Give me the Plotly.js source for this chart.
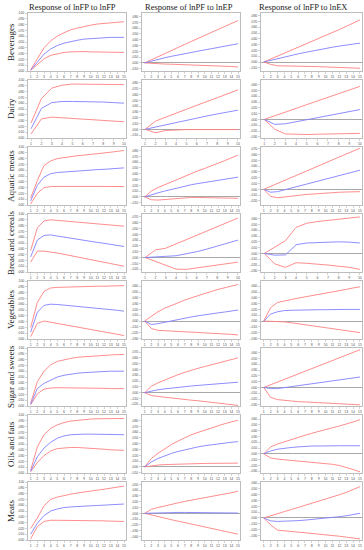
<!DOCTYPE html>
<html><head><meta charset="utf-8">
<script src="https://cdn.plot.ly/plotly-3.0.1.min.js"></script>
<style>html,body{margin:0;padding:0;background:#fff}#chart{width:364px;height:550px}</style>
</head><body><div id="chart"></div>
<script>
const periods15 = [1,2,3,4,5,6,7,8,9,10,11,12,13,14,15];
const periods10 = [1,2,3,4,5,6,7,8,9,10];
const rowNames = ['Beverages','Dairy','Aquatic meats','Bread and cereals','Vegetables','Sugar and sweets','Oils and fats','Meats'];
const colTitles = ['Response of lnFP to lnFP','Response of lnPF to lnEP','Response of lnFP to lnEX'];

// Beverages
const bevFP_hi  = [.002,.022,.040,.052,.060,.066,.071,.074,.077,.079,.081,.082,.083,.084,.085];
const bevFP_mid = [.0015,.016,.029,.038,.044,.048,.051,.053,.055,.056,.057,.0575,.058,.058,.058];
const bevFP_lo  = [.001,.011,.021,.027,.030,.032,.033,.0335,.0335,.033,.033,.033,.0325,.032,.032];
const bevEP_hi  = [0,.0055,.011,.0163,.0215,.0267,.0318,.037,.042,.047,.052,.057,.062,.0675,.073];
const bevEP_mid = [0,.0032,.0061,.0088,.0113,.0137,.016,.0182,.0203,.0224,.0244,.0264,.0284,.0307,.033];
const bevEP_lo  = [0,-.001,-.0015,-.002,-.0023,-.0026,-.003,-.0033,-.0037,-.004,-.0045,-.005,-.0056,-.0063,-.007];
const bevEX_hi  = [0,.005,.0105,.016,.021,.026,.031,.036,.041,.046,.051,.056,.0615,.067,.0725];
const bevEX_mid = [0,.003,.006,.0088,.0115,.014,.0165,.019,.0212,.0234,.0255,.0275,.0295,.031,.0325];
const bevEX_lo  = [0,-.004,-.0065,-.007,-.0072,-.0074,-.0076,-.0078,-.008,-.0083,-.0087,-.0092,-.0097,-.0102,-.0108];
// Dairy
const dairyFP_hi  = [.026,.068,.086,.091,.093,.093,.093,.093,.0925,.092];
const dairyFP_mid = [.016,.051,.061,.063,.063,.063,.0625,.062,.061,.060];
const dairyFP_lo  = [.007,.033,.036,.035,.034,.033,.032,.031,.0295,.028];
const dairyEP_hi  = [0,.014,.021,.028,.0345,.041,.048,.0545,.061,.068];
const dairyEP_mid = [0,.004,.008,.012,.0157,.0194,.023,.0265,.0298,.033];
const dairyEP_lo  = [0,-.006,-.002,-.001,-.0005,-.0005,-.0005,-.0005,-.0005,-.0005];
const dairyEX_hi  = [0,.006,.0125,.019,.0255,.032,.038,.0445,.051,.057];
const dairyEX_mid = [0,-.0085,-.0075,-.004,0,.0035,.007,.0105,.014,.017];
const dairyEX_lo  = [0,-.017,-.025,-.026,-.026,-.0255,-.025,-.0245,-.024,-.024];
// Aquatic meats
const aquaFP_hi  = [.012,.042,.068,.076,.080,.082,.0835,.085,.086,.087,.088,.0895,.091,.0925,.094];
const aquaFP_mid = [.007,.034,.048,.054,.056,.057,.058,.059,.0595,.060,.061,.0615,.0625,.063,.064];
const aquaFP_lo  = [.002,.020,.030,.0318,.032,.0322,.0322,.0322,.0321,.032,.032,.032,.0319,.0318,.0318];
const aquaEP_hi  = [0,.010,.016,.021,.026,.031,.0355,.040,.045,.049,.054,.058,.0625,.067,.072];
const aquaEP_mid = [0,.004,.007,.010,.013,.016,.019,.021,.023,.025,.027,.029,.031,.0325,.034];
const aquaEP_lo  = [0,-.005,-.0055,-.0045,-.0035,-.0025,-.0015,-.001,-.001,-.001,-.0012,-.0015,-.0018,-.0022,-.0025];
const aquaEX_hi  = [0,.005,.010,.015,.020,.025,.030,.035,.040,.045,.050,.055,.060,.0655,.071];
const aquaEX_mid = [0,-.005,-.004,-.001,.002,.005,.008,.011,.014,.017,.020,.023,.026,.0295,.033];
const aquaEX_lo  = [0,-.012,-.0145,-.0135,-.012,-.0105,-.009,-.008,-.007,-.0062,-.0056,-.005,-.0046,-.0043,-.004];
// Bread and cereals
const breadFP_hi  = [.037,.076,.088,.090,.089,.088,.087,.086,.085,.084,.083,.082,.081,.080,.079];
const breadFP_mid = [.026,.055,.063,.064,.062,.060,.0585,.0565,.055,.053,.051,.0495,.0475,.046,.044];
const breadFP_lo  = [.017,.036,.036,.035,.0327,.0305,.028,.026,.0235,.021,.019,.0168,.0145,.0123,.010];
const breadEP_hi  = [0,.013,.016,.0234,.0309,.0383,.0457,.0531,.0606,.068];
const breadEP_mid = [0,.0015,.002,.003,.006,.010,.0145,.0195,.0245,.030];
const breadEP_lo  = [0,-.007,-.014,-.020,-.0205,-.018,-.016,-.013,-.0105,-.008];
const breadEX_hi  = [0,.011,.022,.045,.052,.055,.057,.059,.061,.063];
const breadEX_mid = [0,-.003,-.0025,.015,.018,.019,.0195,.020,.0195,.018];
const breadEX_lo  = [0,-.018,-.024,-.016,-.017,-.018,-.020,-.022,-.024,-.0275];
// Vegetables
const vegFP_hi  = [.020,.063,.082,.088,.089,.0895,.090,.090,.0905,.0905,.091,.091,.0915,.0915,.092];
const vegFP_mid = [.012,.046,.058,.060,.0595,.0585,.0575,.0565,.0555,.0545,.0535,.052,.051,.0495,.048];
const vegFP_lo  = [.004,.027,.031,.029,.027,.0248,.0227,.0206,.0185,.0165,.0144,.0123,.0102,.0081,.006];
const vegEP_hi  = [0,.008,.016,.022,.027,.032,.036,.040,.044,.0475,.051,.0545,.0575,.0605,.063];
const vegEP_mid = [0,-.006,-.0045,-.002,.0005,.003,.005,.007,.009,.011,.0125,.014,.0155,.017,.019];
const vegEP_lo  = [0,-.013,-.016,-.017,-.0175,-.018,-.0185,-.019,-.0195,-.020,-.0205,-.021,-.022,-.023,-.024];
const vegEX_hi  = [0,.023,.032,.035,.037,.0395,.0415,.0435,.046,.048,.050,.0525,.0545,.057,.059];
const vegEX_mid = [0,.012,.016,.018,.0185,.019,.019,.0195,.0195,.0195,.020,.020,.020,.020,.020];
const vegEX_lo  = [0,-.0003,-.0008,-.0015,-.003,-.0047,-.0064,-.0081,-.0098,-.0115,-.0132,-.0149,-.0166,-.0183,-.020];
// Sugar and sweets
const sugarFP_hi  = [.005,.042,.060,.071,.077,.080,.082,.084,.085,.086,.087,.0875,.088,.0885,.089];
const sugarFP_mid = [.003,.030,.039,.045,.050,.053,.055,.0565,.0575,.0585,.059,.0595,.060,.060,.060];
const sugarFP_lo  = [.002,.021,.029,.031,.0315,.0315,.0315,.031,.031,.031,.0305,.0305,.030,.030,.030];
const sugarEP_hi  = [0,.011,.017,.022,.027,.031,.035,.039,.042,.045,.048,.051,.054,.057,.060];
const sugarEP_mid = [0,.003,.005,.0065,.008,.0095,.0105,.0115,.0125,.0135,.0145,.0155,.0163,.0172,.018];
const sugarEP_lo  = [0,-.005,-.0065,-.008,-.009,-.010,-.0115,-.013,-.014,-.0155,-.0165,-.018,-.019,-.0205,-.022];
const sugarEX_hi  = [0,.0046,.0093,.0139,.0186,.0232,.0279,.0325,.0371,.0418,.0464,.0511,.0557,.0604,.065];
const sugarEX_mid = [0,-.002,-.002,-.0003,.0013,.003,.0047,.0063,.008,.0097,.0113,.013,.0147,.0163,.018];
const sugarEX_lo  = [0,-.017,-.021,-.0225,-.0235,-.0245,-.025,-.0257,-.0264,-.0271,-.0278,-.0285,-.029,-.0295,-.030];
// Oils and fats
const oilsFP_hi  = [.005,.045,.066,.077,.083,.087,.0895,.091,.092,.093,.0935,.0935,.094,.094,.094];
const oilsFP_mid = [.003,.028,.043,.053,.060,.064,.066,.067,.067,.067,.067,.067,.0665,.0665,.066];
const oilsFP_lo  = [.002,.018,.030,.038,.042,.0435,.044,.044,.0435,.043,.042,.041,.040,.0395,.039];
const oilsEP_hi  = [0,.0145,.0235,.0315,.0385,.0445,.0505,.0555,.0595,.0635,.0675,.0715,.0745,.0775,.0805];
const oilsEP_mid = [0,.0085,.0145,.0192,.0232,.0266,.0296,.0322,.0345,.0365,.0383,.0399,.0413,.0425,.0435];
const oilsEP_lo  = [0,.002,.0032,.004,.0045,.005,.0053,.0056,.0058,.006,.0061,.0062,.0063,.0064,.0065];
const oilsEX_hi  = [0,.012,.017,.021,.025,.0285,.032,.0355,.039,.042,.045,.048,.051,.055,.059];
const oilsEX_mid = [0,.005,.008,.010,.011,.012,.013,.0135,.0135,.014,.014,.014,.014,.014,.014];
const oilsEX_lo  = [0,-.007,-.009,-.010,-.011,-.012,-.013,-.014,-.015,-.016,-.018,-.020,-.023,-.027,-.031];
// Meats
const meatsFP_hi  = [.020,.038,.059,.070,.074,.077,.079,.081,.083,.0845,.086,.0875,.089,.091,.093];
const meatsFP_mid = [.010,.029,.042,.050,.0535,.056,.057,.058,.0585,.059,.0595,.060,.0605,.061,.062];
const meatsFP_lo  = [.002,.023,.032,.034,.034,.034,.034,.034,.0335,.0335,.033,.033,.0325,.0325,.032];
const meatsEP_hi  = [0,.007,.010,.013,.0155,.018,.0205,.0225,.025,.027,.029,.031,.033,.0355,.038];
const meatsEP_mid = [0,.0005,.001,.0012,.0015,.0015,.0015,.0014,.0013,.0012,.0011,.001,.0008,.0006,.0005];
const meatsEP_lo  = [0,-.003,-.006,-.0085,-.011,-.0135,-.016,-.0185,-.021,-.0235,-.026,-.0285,-.031,-.0335,-.036];
const meatsEX_hi  = [0,.004,.0075,.011,.0145,.018,.0215,.025,.0285,.032,.036,.040,.044,.049,.054];
const meatsEX_mid = [0,-.005,-.006,-.0058,-.0053,-.0046,-.0037,-.0027,-.0016,-.0005,.0008,.0022,.0037,.0055,.008];
const meatsEX_lo  = [0,-.012,-.021,-.0225,-.0235,-.0245,-.0255,-.0265,-.0275,-.029,-.030,-.0315,-.033,-.0345,-.036];

// y-axis ranges per panel [row][col]
const yRanges = [
  [[0,.1],[-.014,.086],[-.0155,.0845]],
  [[0,.1],[-.015,.085],[-.032,.068]],
  [[0,.1],[-.014,.086],[-.027,.073]],
  [[0,.1],[-.025,.075],[-.032,.068]],
  [[0,.1],[-.031,.069],[-.031,.069]],
  [[0,.1],[-.023,.077],[-.032,.068]],
  [[0,.1],[-.0105,.0895],[-.033,.067]],
  [[0,.1],[-.046,.054],[-.038,.062]]
];

const panels = [
  [[bevFP_hi,bevFP_mid,bevFP_lo],[bevEP_hi,bevEP_mid,bevEP_lo],[bevEX_hi,bevEX_mid,bevEX_lo]],
  [[dairyFP_hi,dairyFP_mid,dairyFP_lo],[dairyEP_hi,dairyEP_mid,dairyEP_lo],[dairyEX_hi,dairyEX_mid,dairyEX_lo]],
  [[aquaFP_hi,aquaFP_mid,aquaFP_lo],[aquaEP_hi,aquaEP_mid,aquaEP_lo],[aquaEX_hi,aquaEX_mid,aquaEX_lo]],
  [[breadFP_hi,breadFP_mid,breadFP_lo],[breadEP_hi,breadEP_mid,breadEP_lo],[breadEX_hi,breadEX_mid,breadEX_lo]],
  [[vegFP_hi,vegFP_mid,vegFP_lo],[vegEP_hi,vegEP_mid,vegEP_lo],[vegEX_hi,vegEX_mid,vegEX_lo]],
  [[sugarFP_hi,sugarFP_mid,sugarFP_lo],[sugarEP_hi,sugarEP_mid,sugarEP_lo],[sugarEX_hi,sugarEX_mid,sugarEX_lo]],
  [[oilsFP_hi,oilsFP_mid,oilsFP_lo],[oilsEP_hi,oilsEP_mid,oilsEP_lo],[oilsEX_hi,oilsEX_mid,oilsEX_lo]],
  [[meatsFP_hi,meatsFP_mid,meatsFP_lo],[meatsEP_hi,meatsEP_mid,meatsEP_lo],[meatsEX_hi,meatsEX_mid,meatsEX_lo]]
];

const W = 364, H = 550;
const colX = [[28,126],[142,240],[261,362]];
const titleX = [72,189,303];
const RED = 'rgb(255,128,128)', BLUE = 'rgb(128,128,255)';
const traces = [];
const layout = {
  width: W, height: H, margin: {l:0,r:0,t:0,b:0},
  paper_bgcolor: '#fff', plot_bgcolor: '#fff', showlegend: false,
  annotations: []
};

function yTicks(r) {
  const vals = [], txt = [];
  const start = Math.ceil(r[0] / 0.01 - 1e-9);
  for (let k = start; k * 0.01 <= r[1] + 1e-9; k++) {
    const v = +(k * 0.01).toFixed(3);
    vals.push(v);
    txt.push(v.toFixed(3).replace(/^(-?)0\./, '$1.'));
  }
  return {vals, txt};
}

for (let r = 0; r < 8; r++) {
  const top = 13 + r * 67, bottom = top + 58;
  for (let c = 0; c < 3; c++) {
    const k = r * 3 + c + 1;
    const xa = 'x' + (k === 1 ? '' : k), ya = 'y' + (k === 1 ? '' : k);
    const [hi, mid, lo] = panels[r][c];
    const n = hi.length;
    const xs = n === 15 ? periods15 : periods10;
    [[hi, RED], [lo, RED], [mid, BLUE]].forEach(([ys, col]) => {
      traces.push({x: xs, y: ys, xaxis: xa, yaxis: ya, type: 'scatter', mode: 'lines',
        line: {color: col, width: 0.9}, hoverinfo: 'skip'});
    });
    const yr = yRanges[r][c];
    const yt = yTicks(yr);
    layout['xaxis' + (k === 1 ? '' : k)] = {
      domain: [colX[c][0] / W, colX[c][1] / W], anchor: ya,
      range: n === 15 ? [0.6, 15.3] : [0.7, 10.2],
      tickvals: xs, ticktext: xs.map(String), tickfont: {size: 3.5, color: '#555', family: 'Liberation Sans, Arial'},
      ticks: 'outside', ticklen: 2, tickwidth: 0.5, tickcolor: '#aaa',
      showline: true, mirror: true, linecolor: '#bdbdbd', linewidth: 1,
      showgrid: false, zeroline: false, fixedrange: true
    };
    layout['yaxis' + (k === 1 ? '' : k)] = {
      domain: [1 - bottom / H, 1 - top / H], anchor: xa,
      range: yr, tickvals: yt.vals, ticktext: yt.txt,
      tickfont: {size: 3.5, color: '#555', family: 'Liberation Sans, Arial'},
      ticks: 'outside', ticklen: 2, tickwidth: 0.5, tickcolor: '#aaa',
      showline: true, mirror: true, linecolor: '#bdbdbd', linewidth: 1,
      showgrid: false, zeroline: c > 0, zerolinecolor: '#a8a8a8', zerolinewidth: 1,
      fixedrange: true
    };
  }
  layout.annotations.push({
    text: rowNames[r], xref: 'paper', yref: 'paper', x: 11 / W, y: 1 - (top + 29) / H,
    textangle: -90, showarrow: false, xanchor: 'center', yanchor: 'middle',
    font: {family: 'Liberation Serif, serif', size: 9, color: '#222'}
  });
}
for (let c = 0; c < 3; c++) {
  layout.annotations.push({
    text: colTitles[c], xref: 'paper', yref: 'paper', x: titleX[c] / W, y: 1 - 7 / H,
    showarrow: false, xanchor: 'center', yanchor: 'middle',
    font: {family: 'Liberation Serif, serif', size: 8.5, color: '#222'}
  });
}

Plotly.newPlot('chart', traces, layout, {staticPlot: true, displayModeBar: false});
</script>
</body></html>
